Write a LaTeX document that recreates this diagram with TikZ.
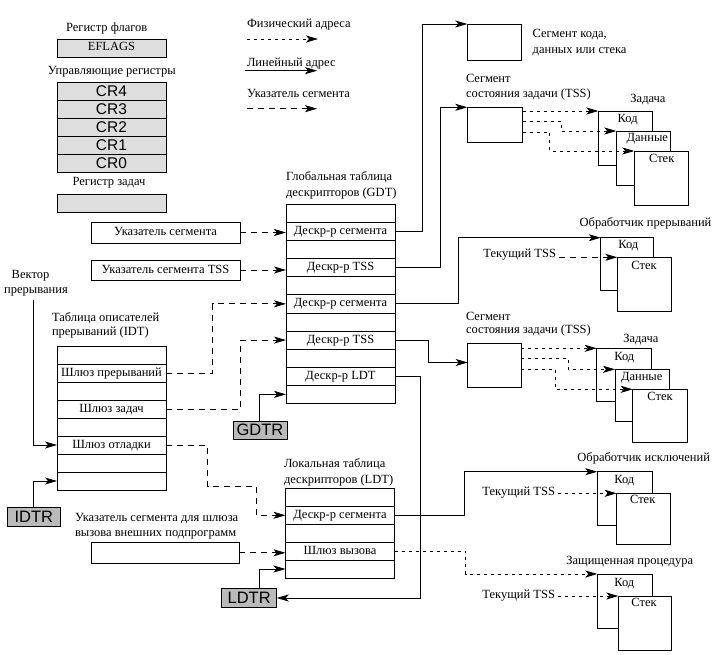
\documentclass[tikz,border=0pt]{standalone}
\usepackage{fontspec}
\setmainfont{Liberation Serif}
\newfontfamily\arialf{Liberation Sans}
\usetikzlibrary{arrows.meta,calc,fit}
\definecolor{lreg}{gray}{0.87}
\definecolor{dreg}{gray}{0.73}
\begin{document}
\begin{tikzpicture}[x=1pt,y=-1pt,
  every node/.style={font=\fontsize{12.5}{16}\selectfont, inner sep=0pt, outer sep=0pt, text height=9pt, text depth=3pt},
  bx/.style={draw, fill=white, line width=0.8pt},
  regbox/.style={draw, fill=lreg, line width=0.8pt, minimum width=109pt, minimum height=18pt},
  crrow/.style={regbox, font=\arialf\fontsize{15.5}{16}\selectfont, text height=11pt, text depth=0pt},
  dregbox/.style={draw, fill=dreg, line width=0.8pt, font=\arialf\fontsize{16.5}{16}\selectfont, text height=11.5pt, text depth=0pt},
  trow/.style={draw, fill=white, line width=0.8pt, minimum width=109pt, minimum height=18.1pt},
  conn/.style={line width=0.8pt, -{Stealth[length=12pt,width=7pt,inset=3pt]}},
  phys/.style={conn, dash pattern=on 3pt off 4pt},
  segp/.style={conn, dash pattern=on 6pt off 5pt},
]
\useasboundingbox[fill=white] (0,0) rectangle (722,655);

% ---------- registers (top left)
\node (lflag) at (106.7,29) {Регистр флагов};
\node[regbox] (eflags) at (111.5,48) {EFLAGS};
\node (lcr) at (111.8,71.7) {Управляющие регистры};
\node[crrow] (cr4) at (111.5,91) {CR4};
\node[crrow] (cr3) at (111.5,109) {CR3};
\node[crrow] (cr2) at (111.5,127) {CR2};
\node[crrow] (cr1) at (111.5,145) {CR1};
\node[crrow] (cr0) at (111.5,163) {CR0};
\node (ltr) at (109,182.7) {Регистр задач};
\node[regbox] (treg) at (111.5,203) {};

% ---------- legend
\node[anchor=west] (lg1) at (247,25) {Физический адреса};
\coordinate (lg1a) at (247,39); \coordinate (lg1b) at (318,39);
\node[anchor=west] (lg2) at (247,63.3) {Линейный адрес};
\coordinate (lg2a) at (245,70.7); \coordinate (lg2b) at (317,70.7);
\node[anchor=west] (lg3) at (247,94.3) {Указатель сегмента};
\coordinate (lg3a) at (247,108.7); \coordinate (lg3b) at (317,108.7);

% ---------- code segment & TSS 1
\node[bx, fit={(467.3,24) (521.3,60.3)}] (cs) {};
\node[anchor=west] (csl1) at (532.7,35) {Сегмент кода,};
\node[anchor=west] (csl2) at (532.7,50.7) {данных или стека};
\node[anchor=west] (t1l1) at (466,80) {Сегмент};
\node[anchor=west] (t1l2) at (466,94.3) {состояния задачи (TSS)};
\node[bx, fit={(467.3,107.3) (522.7,142.3)}] (t1) {};
\node (tk1) at (648,99.3) {Задача};
\node[bx, fit={(598.3,111) (652.3,165.7)}] (c1) {};
\node[bx, fit={(616.3,131) (670.3,185)}] (d1) {};
\node[bx, fit={(634.3,151) (688.3,205)}] (s1) {};
\node (c1t) at (627.7,120) {Код};
\node (d1t) at (647.3,138.8) {Данные};
\node (s1t) at (661.7,159.5) {Стек};

% ---------- interrupt handler
\node (ihl) at (645.5,223.3) {Обработчик прерываний};
\node[bx, fit={(600.7,237.7) (653.3,290)}] (ihc) {};
\node[bx, fit={(617.3,257.3) (671.7,311)}] (ihs) {};
\node (ihct) at (628.3,245.5) {Код};
\node (ihst) at (644,266.7) {Стек};
\node[anchor=east] (cur1) at (556,254.5) {Текущий TSS};

% ---------- TSS 2
\node[anchor=west] (t2l1) at (466,317.7) {Сегмент};
\node[anchor=west] (t2l2) at (466,330.5) {состояния задачи (TSS)};
\node[bx, fit={(467.7,343.3) (521,387.7)}] (t2) {};
\node (tk2) at (640.8,339.3) {Задача};
\node[bx, fit={(596.7,348.3) (651.7,401.7)}] (c2) {};
\node[bx, fit={(615,369.3) (669.3,421.7)}] (d2) {};
\node[bx, fit={(632.7,389.3) (687.7,442)}] (s2) {};
\node (c2t) at (624.3,357) {Код};
\node (d2t) at (641.7,377.2) {Данные};
\node (s2t) at (660,397.5) {Стек};

% ---------- exception handler
\node (ehl) at (643.7,458.3) {Обработчик исключений};
\node[bx, fit={(597.3,471.7) (652.3,525)}] (ehc) {};
\node[bx, fit={(616.7,493.3) (670,544)}] (ehs) {};
\node (ehct) at (624.3,480.3) {Код};
\node (ehst) at (642.7,500.5) {Стек};
\node[anchor=east] (cur2) at (555,492.7) {Текущий TSS};

% ---------- protected procedure
\node (ppl) at (629.7,561.7) {Защищенная процедура};
\node[bx, fit={(597.3,574) (652.3,628.3)}] (ppc) {};
\node[bx, fit={(618.3,596) (671,650)}] (pps) {};
\node (ppct) at (624.3,583) {Код};
\node (ppst) at (644,603.5) {Стек};
\node[anchor=east] (cur3) at (555,595) {Текущий TSS};

% ---------- GDT
\node[anchor=west] (gdtl1) at (286,177.5) {Глобальная таблица};
\node[anchor=west] (gdtl2) at (286,193.5) {дескрипторов (GDT)};
\node[trow] (g0) at (340.5,213.35) {};
\node[trow] (g1) at (340.5,231.45) {Дескр-р сегмента};
\node[trow] (g2) at (340.5,249.55) {};
\node[trow] (g3) at (340.5,267.65) {Дескр-р TSS};
\node[trow] (g4) at (340.5,285.75) {};
\node[trow] (g5) at (340.5,303.85) {Дескр-р сегмента};
\node[trow] (g6) at (340.5,321.95) {};
\node[trow] (g7) at (340.5,340.05) {Дескр-р TSS};
\node[trow] (g8) at (340.5,358.15) {};
\node[trow] (g9) at (340.5,376.25) {Дескр-р LDT};
\node[trow] (g10) at (340.5,394.35) {};
\node[dregbox, minimum width=54pt, minimum height=18pt] (gdtr) at (260,430) {GDTR};

% ---------- pointers
\node[bx, minimum width=149pt, minimum height=21pt] (ps1) at (165.5,232.5) {Указатель сегмента};
\node[bx, minimum width=149pt, minimum height=20pt] (ps2) at (165.5,270) {Указатель сегмента TSS};

% ---------- IDT
\node (vec1) at (30.5,275) {Вектор};
\node (vec2) at (36,290.7) {прерывания};
\coordinate (vec) at (33.3,300);
\node[anchor=west] (idtl1) at (52,318) {Таблица описателей};
\node[anchor=west] (idtl2) at (52,332) {прерываний (IDT)};
\node[trow, minimum height=18pt] (i0) at (111.5,355) {};
\node[trow, minimum height=18pt] (i1) at (111.5,373) {Шлюз прерываний};
\node[trow, minimum height=18pt] (i2) at (111.5,391) {};
\node[trow, minimum height=18pt] (i3) at (111.5,409) {Шлюз задач};
\node[trow, minimum height=18pt] (i4) at (111.5,427) {};
\node[trow, minimum height=18pt] (i5) at (111.5,445) {Шлюз отладки};
\node[trow, minimum height=18pt] (i6) at (111.5,463) {};
\node[trow, minimum height=18pt] (i7) at (111.5,481) {};
\node[dregbox, minimum width=53.7pt, minimum height=19.4pt] (idtr) at (33.85,517) {IDTR};

% ---------- LDT
\node[anchor=west] (ldtl1) at (284,464.3) {Локальная таблица};
\node[anchor=west] (ldtl2) at (284,480) {дескрипторов (LDT)};
\node[trow, minimum height=17.9pt] (l0) at (340,497.4) {};
\node[trow, minimum height=17.9pt] (l1) at (340,515.3) {Дескр-р сегмента};
\node[trow, minimum height=17.9pt] (l2) at (340,533.2) {};
\node[trow, minimum height=17.9pt] (l3) at (340,551.1) {Шлюз вызова};
\node[trow, minimum height=17.9pt] (l4) at (340,569) {};
\node[anchor=west] (ps3l1) at (75,518.3) {Указатель сегмента для шлюза};
\node[anchor=west] (ps3l2) at (75,533.3) {вызова внешних подпрограмм};
\node[bx, minimum width=148.3pt, minimum height=21pt] (ps3) at (165.15,552.8) {};
\node[dregbox, minimum width=55pt, minimum height=19.4pt] (ldtr) at (249.2,598) {LDTR};

% ================= connectors
\draw[phys] (lg1a) -- (lg1b);
\draw[conn] (lg2a) -- (lg2b);
\draw[segp] (lg3a) -- (lg3b);

\draw[segp] (ps1.east) -- (ps1.east -| g1.west);
\draw[segp] (ps2.east) -- (ps2.east -| g3.west);
\draw[segp] (i1.east) -- ++(46.5,0) |- (g5.west);
\draw[segp] (i3.east) -- ++(74.7,0) |- (g7.west);
\draw[conn] ([xshift=-0.7pt]gdtr.north) |- (g10.west);
\draw[conn] (vec) |- (i5.west);
\draw[conn] (idtr.north) |- (i7.west);
\draw[segp] (i5.east) -- ++(41.5,0) -- ++(0,41) -- ++(48.5,0) |- (l1.west);
\draw[segp] (ps3.east) -- (ps3.east -| l3.west);
\draw[conn] ([xshift=10pt]ldtr.north) |- (l4.west);
\draw[conn] (g9.east) -- ++(25.7,0) |- (ldtr.east);

\draw[conn] (g1.east) -- ++(27.7,0) |- (cs.north west);
\draw[conn] (g3.east) -- ++(45,0) |- (t1.north west);
\draw[conn] (g5.east) -- ++(63.5,0) |- (ihc.north west);
\draw[conn] (g7.east) -- ++(33,0) |- ([yshift=3pt]t2.west);
\draw[conn] (l1.east) -- ++(70,0) |- (ehc.north west);
\draw[phys] (l3.east) -- ++(71,0) |- (ppc.north west);

\draw[phys] (t1.east |- c1.north) -- (c1.north west);
\draw[phys] ([yshift=-14.4pt]t1.north east) -- ++(38.5,0) |- (d1.north west);
\draw[phys] ([yshift=-25pt]t1.north east) -- ++(26.8,0) |- (s1.north west);
\draw[phys] (t2.east |- c2.north) -- (c2.north west);
\draw[phys] ([yshift=-15pt]t2.north east) -- ++(47.3,0) |- (d2.north west);
\draw[phys] ([yshift=-26pt]t2.north east) -- ++(34,0) |- (s2.north west);

\draw[segp] ($(cur1.east |- ihs.north)+(3,0)$) -- (ihs.north west);
\draw[phys] ($(cur2.east |- ehs.north)+(3,0)$) -- (ehs.north west);
\draw[phys] ($(cur3.east |- pps.north)+(3,0)$) -- (pps.north west);
\end{tikzpicture}
\end{document}
